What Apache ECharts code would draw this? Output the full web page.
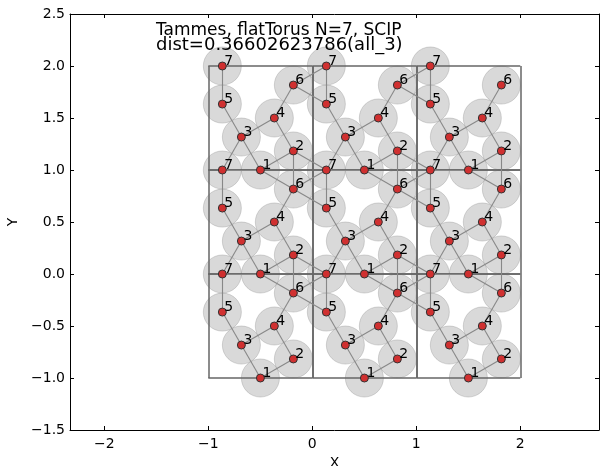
<!DOCTYPE html>
<html>
<head>
<meta charset="utf-8">
<script src="https://cdn.jsdelivr.net/npm/echarts@6/dist/echarts.min.js"></script>
<style>
html,body{margin:0;padding:0;background:#fff;}
#chart{width:600px;height:466px;}
</style>
</head>
<body>
<div id="chart"></div>
<script>
// ---- data ----
const titleLines = ['Tammes, flatTorus N=7, SCIP', 'dist=0.36602623786(all_3)'];
const minDist = 0.36602623786;
const pointNames = ['1', '2', '3', '4', '5', '6', '7'];
const pointX = [0.50103, 0.81801, 0.31801, 0.63500, 0.13500, 0.81801, 0.13500];
const pointY = [0.00000, 0.18301, 0.31699, 0.50000, 0.63397, 0.81699, 1.00000];
const tileShiftX = [-1, 0, 1];
const tileShiftY = [-1, 0, 1];
const xTicks = [-2, -1, 0, 1, 2];
const yTicks = [-1.5, -1, -0.5, 0, 0.5, 1, 1.5, 2, 2.5];
const xRange = [-2.33, 2.757];
const yRange = [-1.5, 2.5];

// ---- derived ----
const copies = [];
tileShiftX.forEach(sx => tileShiftY.forEach(sy => {
  pointNames.forEach((n, i) => copies.push({ name: n, value: [pointX[i] + sx, pointY[i] + sy] }));
}));
const edges = [];
for (let i = 0; i < copies.length; i++) {
  for (let j = i + 1; j < copies.length; j++) {
    const a = copies[i].value, b = copies[j].value;
    const d = Math.hypot(a[0] - b[0], a[1] - b[1]);
    if (Math.abs(d - minDist) < 0.004) edges.push({ coords: [a, b] });
  }
}
const tileLines = [];
tileShiftX.forEach(sx => tileShiftY.forEach(sy => {
  const x0 = sx, y0 = sy, x1 = sx + 1, y1 = sy + 1;
  tileLines.push({ coords: [[x0, y0], [x1, y0]] });
  tileLines.push({ coords: [[x1, y0], [x1, y1]] });
  tileLines.push({ coords: [[x1, y1], [x0, y1]] });
  tileLines.push({ coords: [[x0, y1], [x0, y0]] });
}));

const FONT = 'DejaVu Sans';
const minus = s => String(s).replace('-', '\u2212');
const tickCommon = { show: true, inside: true, length: 4, lineStyle: { color: '#000', width: 1 } };

const chart = echarts.init(document.getElementById('chart'), null, { renderer: 'canvas' });
chart.setOption({
  animation: false,
  backgroundColor: '#fff',
  title: [{
    text: titleLines[0],
    left: 156, top: 22, padding: 0,
    textStyle: { fontFamily: FONT, fontSize: 17, fontWeight: 'normal', color: '#000', lineHeight: 17 }
  }, {
    text: titleLines[1],
    left: 156, top: 36, padding: 0,
    textStyle: { fontFamily: FONT, fontSize: 18, fontWeight: 'normal', color: '#000', lineHeight: 18 }
  }],
  grid: { left: 70, right: 1, top: 14, bottom: 36, containLabel: false, outerBoundsMode: 'none' },
  xAxis: [{
    type: 'value', min: xRange[0], max: xRange[1], position: 'bottom',
    name: 'X', nameLocation: 'middle', nameGap: 24,
    nameTextStyle: { fontFamily: FONT, fontSize: 14, color: '#000' },
    axisLine: { show: true, onZero: false, lineStyle: { color: '#000', width: 1 } },
    axisTick: Object.assign({ customValues: xTicks }, tickCommon),
    axisLabel: { customValues: xTicks, formatter: v => minus(v), fontFamily: FONT, fontSize: 14, color: '#000', margin: 7 },
    splitLine: { show: false }
  }, {
    type: 'value', min: xRange[0], max: xRange[1], position: 'top',
    axisLine: { show: true, onZero: false, lineStyle: { color: '#000', width: 1 } },
    axisTick: Object.assign({ customValues: xTicks }, tickCommon),
    axisLabel: { show: false }, splitLine: { show: false }
  }],
  yAxis: [{
    type: 'value', min: yRange[0], max: yRange[1], position: 'left',
    name: 'Y', nameLocation: 'middle', nameGap: 43,
    nameTextStyle: { fontFamily: FONT, fontSize: 14, color: '#000' },
    axisLine: { show: true, onZero: false, lineStyle: { color: '#000', width: 1 } },
    axisTick: Object.assign({ customValues: yTicks }, tickCommon),
    axisLabel: { customValues: yTicks, formatter: v => minus(v.toFixed(1)), fontFamily: FONT, fontSize: 14, color: '#000', margin: 5 },
    splitLine: { show: false }
  }, {
    type: 'value', min: yRange[0], max: yRange[1], position: 'right',
    axisLine: { show: true, onZero: false, lineStyle: { color: '#000', width: 1 } },
    axisTick: Object.assign({ customValues: yTicks }, tickCommon),
    axisLabel: { show: false }, splitLine: { show: false }
  }],
  series: [
    {
      type: 'custom', name: 'caps', coordinateSystem: 'cartesian2d', z: 1,
      data: copies.map(c => c.value),
      renderItem: (params, api) => {
        const c = api.coord([api.value(0), api.value(1)]);
        const r = api.size([minDist / 2, 0])[0];
        return {
          type: 'circle', shape: { cx: c[0], cy: c[1], r: r },
          style: { fill: 'rgba(128,128,128,0.3)', stroke: 'rgba(128,128,128,0.3)', lineWidth: 1 }
        };
      },
      silent: true
    },
    {
      type: 'lines', name: 'tiles', coordinateSystem: 'cartesian2d', z: 2,
      data: tileLines, symbol: 'none',
      lineStyle: { color: '#666', width: 1.5, opacity: 1 }, silent: true
    },
    {
      type: 'lines', name: 'contacts', coordinateSystem: 'cartesian2d', z: 3,
      data: edges, symbol: 'none',
      lineStyle: { color: '#888', width: 1.1, opacity: 1 }, silent: true
    },
    {
      type: 'scatter', name: 'points', z: 4,
      data: copies, symbol: 'circle', symbolSize: 8,
      itemStyle: { color: '#d03030', borderColor: '#333', borderWidth: 1, opacity: 1 },
      label: {
        show: true, formatter: '{b}', position: 'right', distance: 0, offset: [-2.5, -5],
        fontFamily: FONT, fontSize: 14, color: '#000'
      },
      silent: true
    }
  ]
});
</script>
</body>
</html>
